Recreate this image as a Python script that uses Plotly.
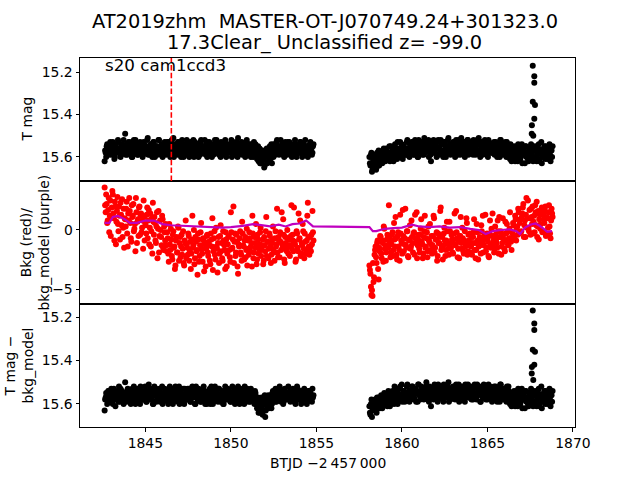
import numpy as np
import plotly.graph_objects as go
from plotly.subplots import make_subplots

# ---------------- data ----------------
CADENCE = 0.06            # days between samples of one series
T1_START = 1842.62        # first orbit start (BTJD - 2457000)
T2_START = 1858.10        # second orbit start
T_HALF = 0.03             # the "_b" samples sit half a cadence later

# Panel 1: T mag, in hundredths of a magnitude above 15
tmag_seg1 = [
    62,58,55,57,59,54,56,58,53,57,60,55,57,52,58,56,59,54,57,55,
    49,57,59,55,53,58,56,60,54,57,52,56,59,55,58,54,57,60,53,56,
    58,55,51,57,59,54,56,58,53,60,56,55,57,52,58,59,54,56,57,55,
    59,53,57,56,60,54,58,51,56,57,55,59,53,57,58,54,56,60,55,57,
    52,58,56,59,54,57,55,60,53,56,58,54,57,59,52,56,58,55,57,54,
    60,56,53,58,55,57,59,54,56,52,58,57,55,60,54,56,59,53,57,56,
    55,58,54,57,60,53,56,59,55,57,51,58,56,54,59,57,55,60,53,58,
    56,59,54,57,55,60,58,54,56,58,62,56,63,59,57,61,64,58,56,60,
    62,55,57,63,58,54,56,57,52,58,59,55,57,54,56,60,53,57,59,55,
    53,57,59,55,56,58,54,60,57,55,58,53,56,59,54,57,55,58,60,56,54,57,59,55]
tmag_seg1_b = [
    57,60,54,58,56,53,59,55,57,61,54,58,56,53,57,60,55,58,52,56,
    59,54,57,53,58,55,60,56,52,58,57,54,59,56,53,57,55,59,54,58,
    56,52,59,55,57,54,60,53,58,56,55,59,52,57,56,54,60,57,53,58,
    55,58,53,59,56,52,57,60,54,56,58,53,57,55,60,52,58,56,54,59,
    57,54,60,53,58,56,52,59,55,57,54,60,56,53,58,55,57,52,59,56,
    53,59,56,55,60,54,57,52,58,56,54,59,57,53,56,58,55,52,60,54,
    58,55,57,52,56,59,54,57,53,60,56,58,55,53,57,54,59,56,52,57,
    54,57,60,55,58,53,56,59,61,55,60,63,57,62,59,65,60,57,63,58,
    59,61,54,58,60,56,59,53,57,55,58,52,56,59,54,57,55,58,53,57,
    58,55,60,54,57,52,59,56,55,58,53,57,60,54,56,52,58,55,59,57,53,56,58,54]
tmag_seg2 = [
    60,64,58,66,62,63,59,65,61,57,63,60,58,62,56,61,59,57,60,58,
    62,55,59,57,60,54,58,61,56,59,53,57,60,55,58,56,59,52,57,60,
    55,58,53,57,59,54,56,60,52,57,55,58,54,59,56,53,57,55,60,54,
    62,56,58,53,57,55,59,52,56,58,54,57,60,53,56,55,58,51,57,59,
    54,56,58,53,57,55,59,52,56,54,58,57,53,60,55,56,52,58,54,57,
    55,59,53,56,58,52,57,54,60,55,57,53,58,56,54,59,52,57,55,58,
    54,57,59,53,56,58,55,60,52,57,54,59,56,58,53,57,55,61,56,58,
    59,55,62,57,60,54,58,61,56,63,57,59,55,60,58,62,56,59,57,61,
    55,60,57,62,58,54,61,57,63,59,56,60,55,58,61,57,59,56,60]
tmag_seg2_b = [
    63,59,67,61,64,60,66,58,62,64,59,61,63,57,60,62,56,59,61,55,
    58,60,56,62,55,59,57,53,60,56,58,54,61,55,57,59,53,56,58,54,
    57,53,59,56,52,58,55,60,54,57,53,59,56,51,58,54,57,52,56,59,
    54,58,52,57,55,60,53,56,59,52,57,54,58,53,60,55,52,57,54,56,
    58,53,56,60,52,55,57,54,59,51,56,58,53,55,57,52,59,54,56,53,
    57,52,56,59,54,57,51,58,55,53,59,56,52,57,55,60,53,56,54,58,
    56,53,58,55,60,54,57,52,59,56,54,58,53,60,56,55,59,54,62,57,
    61,57,59,55,62,58,56,60,54,59,57,63,55,58,61,56,60,54,58,62,
    57,61,55,59,56,62,58,53,60,57,55,61,58,56,59,54,62,57,55]
flare_t = [1867.59, 1867.60, 1867.65, 1867.65, 1867.74, 1867.74, 1867.78, 1867.74, 1867.68]
flare_tmag = [15.49, 15.45, 15.17, 15.34, 15.22, 15.25, 15.355, 15.42, 15.50]

# Panel 2: background (red) in tenths, and background model (purple)
bkg_seg1 = [
    36,15,22,8,27,12,-5,19,30,10,24,-12,16,5,20,-8,13,26,2,-15,
    9,18,-3,14,27,6,-10,11,22,1,-18,15,7,-5,20,12,-2,8,25,-9,
    4,13,-7,17,2,-14,10,23,-4,6,-11,15,1,-19,8,-6,12,-15,3,-9,
    -13,-2,-20,5,-17,-8,-25,-1,-14,-30,-6,-19,2,-11,-23,-4,-16,-28,-9,8,
    -12,-21,-5,-18,-33,-8,-15,0,-24,-10,-17,-3,-27,-13,6,-20,-7,-35,-11,-16,
    -4,-22,-13,-29,-8,10,-18,-1,-25,-14,-36,-6,-20,4,-11,-26,-9,-17,-2,-31,
    -12,-5,-23,15,-16,-8,-28,-3,-19,-10,-37,-14,-1,-21,7,-13,-25,-6,-17,-30,
    -9,-2,-18,-11,12,-24,-6,-15,-29,-4,-20,-12,2,-17,-8,-26,-13,-1,-22,-10,
    -16,-5,-28,-11,3,-19,-7,-14,18,-23,-9,-2,-17,-12,9,-25,-6,-15,0,-20,
    -8,-13,21,-4,-18,-10,-27,-1,-15,14,-7,-22,-11,5,-16,-3,-20,-9,23,-14,-6,-18,-12,-2]
bkg_seg1_b = [
    21,30,6,17,-2,25,11,33,14,-9,20,7,28,-1,12,23,4,-6,18,10,
    3,24,-14,8,16,-7,21,12,-1,5,27,-11,9,19,-4,14,2,-16,11,6,
    -3,19,8,-12,14,-1,-20,7,11,-9,3,-24,16,-5,0,-13,9,-17,-2,5,
    -18,-7,-27,-12,1,-22,-4,-15,-33,-9,-19,3,-26,-6,-14,-21,-1,-30,-11,-24,
    -15,-3,-26,-10,-20,12,-13,-29,-6,-18,-38,-8,-22,-2,-16,-27,-9,-12,-31,-5,
    -19,-10,-26,-3,-14,-34,-7,-21,2,-16,-11,-28,-5,-18,-24,-1,-13,-33,-8,-20,
    -6,-17,-27,-2,-15,20,-10,-22,-4,-31,-12,-7,-19,-26,-3,-14,-9,-23,1,-16,
    -21,-7,-14,-31,-3,-19,-11,5,-25,-8,-16,-2,-22,-13,-29,-6,-18,11,-10,-24,
    -3,-14,-21,-8,-17,-26,-1,-12,-19,-6,-23,-10,15,-15,-4,-28,-11,-18,-7,-13,
    -22,-5,-16,-9,19,-12,-25,-3,-18,-8,8,-20,-13,-1,-24,-10,-17,12,-6,-21,-14,-4,16,-9]
bkg_seg2 = [
    -30,-37,-55,-56,-44,-21,-14,-28,-9,-42,-18,-6,-24,-11,3,-16,-26,-8,-13,21,
    -10,-19,-4,-22,6,-14,-7,-25,-2,-17,13,-9,-20,-5,-12,18,-15,-1,-23,-8,
    -16,8,-11,-3,-21,-7,15,-13,-4,-19,1,-10,-24,-6,12,-14,-2,-18,-9,5,
    -12,-20,-5,10,-15,-8,-26,-3,-11,16,-17,-6,-13,2,-22,-9,-1,-16,7,-11,
    -4,-19,-8,14,-13,-2,-23,-10,-5,11,-16,-7,-20,-1,-12,6,-18,-9,-3,-14,
    -21,-6,9,-11,-17,-2,-25,-8,-13,4,-10,-19,-5,13,-15,-7,-22,-3,-12,1,
    14,-9,-16,-4,-11,8,-20,-6,-1,-14,10,-8,-18,-3,5,-12,-7,15,-10,-2,
    6,-5,12,-9,3,18,-3,9,-1,14,22,4,-6,27,10,2,17,-4,11,20,
    7,-2,15,24,3,-8,13,5,19,-1,9,16,-5,11,2,21,-3,8,14]
bkg_seg2_b = [
    -34,-48,-51,-28,-40,-17,-23,-11,-33,-15,-5,-20,-9,-27,1,-13,-19,-4,-15,-7,
    -23,-12,-2,-17,-8,11,-21,-5,-14,-26,-3,-11,17,-18,-7,-13,-1,-22,-9,4,
    -14,-6,-19,-2,13,-11,-24,-8,-16,-4,9,-12,-20,-1,-15,-7,-23,3,-10,-17,
    -5,-13,12,-19,-8,-2,-22,-11,-6,19,-14,-25,-3,-9,-17,7,-12,-21,-1,-15,
    -8,-20,-3,-12,16,-7,-16,-24,-5,-11,2,-18,-9,-14,10,-21,-4,-13,-19,-6,
    -11,-2,-17,-24,5,-9,-14,-6,-20,-1,12,-13,-7,-18,-3,-10,-23,8,-15,-5,
    -12,-19,3,-8,-15,-1,11,-6,-21,-11,-4,-16,7,-9,-2,-13,1,-7,-17,-3,
    4,-8,9,1,-4,15,6,-2,11,19,-6,8,13,2,25,-1,10,18,5,-3,
    12,21,4,-6,16,9,1,17,-2,13,6,20,-4,10,15,3,-7,18,11]
model_t = [1842.62, 1842.9, 1843.1, 1843.4, 1843.8, 1844.1, 1844.5, 1845.0, 1845.5,
           1846.0, 1846.5, 1847.2, 1848.0, 1848.8, 1849.5, 1850.0, 1850.7, 1851.3,
           1851.8, 1852.3, 1852.8, 1853.2, 1853.6, 1854.0, 1854.4, 1854.8,
           1858.1, 1858.3, 1858.5, 1859.0, 1859.5, 1860.0, 1860.6, 1861.0, 1861.6,
           1862.2, 1862.8, 1863.4, 1864.0, 1864.5, 1864.9, 1865.3, 1865.8, 1866.3,
           1866.7, 1866.9, 1867.2, 1867.5, 1867.8, 1868.0, 1868.3, 1868.5, 1868.78]
model_v = [0.6, 0.6, 1.1, 1.2, 0.9, 0.6, 0.6, 0.8, 0.8,
           0.5, 0.4, 0.35, 0.3, 0.25, 0.2, 0.25, 0.35, 0.5,
           0.4, 0.3, 0.45, 0.3, 0.5, 0.55, 0.8, 0.3,
           0.25, -0.1, -0.1, 0.1, 0.15, 0.2, 0.45, 0.3, 0.25,
           0.3, 0.2, 0.25, 0.1, 0.0, -0.35, -0.1, 0.0, 0.05,
           -0.1, -0.35, 0.2, 0.45, 0.55, 0.4, 0.1, -0.15, -0.1]

# Panel 3: T mag - bkg_model, in hundredths of a magnitude above 15
dmag_seg1 = [
    63,57,56,58,54,59,55,57,60,53,56,58,55,57,52,59,56,54,58,57,
    50,56,58,54,57,59,55,53,58,56,60,54,57,55,59,52,56,58,55,57,
    54,59,56,51,57,55,58,60,54,56,53,58,57,55,59,56,52,57,58,54,
    57,55,60,53,58,56,54,59,57,52,56,58,55,60,54,57,56,59,53,58,
    56,53,58,55,59,57,54,56,60,52,57,55,58,54,59,56,53,57,60,55,
    58,54,57,60,52,56,59,55,57,54,58,53,56,59,57,55,60,54,58,56,
    53,57,55,59,56,58,54,60,57,55,52,58,56,59,54,57,60,55,58,53,
    57,55,59,54,58,56,60,55,57,61,64,58,62,57,65,60,56,63,59,57,
    62,58,56,60,54,57,59,55,58,53,57,56,59,54,60,56,58,55,57,52,
    56,59,55,58,54,57,60,56,53,58,55,57,59,54,56,58,55,60,57,54,58,56,59,57]
dmag_seg1_b = [
    58,55,60,54,57,59,53,56,58,55,61,57,54,59,56,53,58,55,60,57,
    55,59,53,57,56,60,54,58,52,57,55,59,53,56,60,57,54,58,56,52,
    59,56,54,58,53,57,55,60,52,56,59,54,57,53,58,55,60,56,53,57,
    54,59,56,52,57,55,60,53,58,56,54,59,52,57,55,58,53,60,56,54,
    58,55,53,59,56,52,57,54,60,55,58,53,56,59,54,57,52,58,55,60,
    55,57,53,58,54,60,56,52,57,55,59,53,58,56,54,60,57,52,55,58,
    57,54,59,55,52,58,56,53,59,54,57,60,55,58,53,56,52,59,57,54,
    59,56,53,58,55,57,54,59,62,57,60,64,58,61,63,59,66,58,61,56,
    60,57,62,55,58,56,53,59,55,57,52,58,56,54,59,53,57,55,58,56,
    54,58,56,53,59,55,57,52,58,56,54,60,57,55,53,58,56,59,54,57,55,58,53,56]
dmag_seg2 = [
    61,65,58,63,60,62,58,64,60,57,62,59,57,61,56,60,58,56,59,57,
    61,55,58,56,60,53,57,59,55,58,52,56,59,54,57,55,58,51,56,59,
    54,57,52,56,58,53,55,59,51,56,54,57,53,58,55,52,56,54,59,53,
    61,55,57,52,56,54,58,51,55,57,53,56,59,52,55,54,57,50,56,58,
    53,55,57,52,56,54,58,51,55,53,57,56,52,59,54,55,51,57,53,56,
    54,58,52,55,57,51,56,53,59,54,56,52,57,55,53,58,51,56,54,57,
    53,56,58,52,55,57,54,59,51,56,53,58,55,57,52,56,54,60,55,57,
    58,54,61,56,59,53,57,60,55,62,56,58,54,59,57,61,55,58,56,60,
    54,59,56,61,57,53,60,56,62,58,55,59,54,57,60,56,58,55,59]
dmag_seg2_b = [
    64,60,66,59,62,58,63,57,61,59,60,56,62,58,55,59,57,61,54,58,
    56,59,54,58,52,57,55,60,53,56,58,51,57,54,59,55,52,57,54,56,
    58,52,55,57,53,59,54,51,56,58,52,55,57,53,56,50,58,54,52,57,
    55,53,58,51,56,54,59,52,57,55,53,58,51,56,54,57,52,59,55,53,
    57,52,54,58,51,56,53,59,55,52,57,54,58,51,56,53,55,57,52,58,
    54,57,51,56,58,53,55,52,59,54,57,51,56,58,53,55,57,52,56,59,
    55,52,57,54,59,53,56,51,58,55,53,57,54,59,56,52,58,55,61,57,
    60,56,58,54,61,57,55,59,53,58,56,62,54,57,60,55,59,53,57,61,
    56,60,54,58,55,61,57,52,59,56,54,60,57,55,58,53,61,56,54]
flare_dmag = [15.46, 15.43, 15.17, 15.35, 15.23, 15.26, 15.36, 15.42, 15.49]

sector_label = "s20 cam1ccd3"
discovery_t = 1846.52
title_lines = ["AT2019zhm\u00a0 MASTER-OT-J070749.24+301323.0",
               "17.3Clear_ Unclassified z= -99.0"]
x_ticks = [1845, 1850, 1855, 1860, 1865, 1870]

# ---------------- build ----------------
def times(start, n):
    return np.round(start + CADENCE * np.arange(n), 3)

t_all = np.concatenate([times(T1_START, len(tmag_seg1)), times(T1_START + T_HALF, len(tmag_seg1_b)),
                        times(T2_START, len(tmag_seg2)), times(T2_START + T_HALF, len(tmag_seg2_b))])

def mag(*parts):
    return 15 + np.concatenate([np.array(p) for p in parts]) / 100

tmag = mag(tmag_seg1, tmag_seg1_b, tmag_seg2, tmag_seg2_b)
dmag = mag(dmag_seg1, dmag_seg1_b, dmag_seg2, dmag_seg2_b)
bkg = np.concatenate([np.array(p) for p in (bkg_seg1, bkg_seg1_b, bkg_seg2, bkg_seg2_b)]) / 10

FONT = "DejaVu Sans"
L, R, T, B = 80, 65, 58, 53
W, H = 640, 480
PW, PH = W - L - R, H - T - B

def px(xp):
    return (xp - L) / PW

def py(yp):
    return (H - B - yp) / PH

fig = make_subplots(rows=3, cols=1, shared_xaxes=True, vertical_spacing=0)

dot = dict(color="black", size=6)
fig.add_trace(go.Scatter(x=t_all, y=tmag, mode="markers", marker=dot, hoverinfo="skip"), row=1, col=1)
fig.add_trace(go.Scatter(x=flare_t, y=flare_tmag, mode="markers", marker=dot, hoverinfo="skip"), row=1, col=1)

fig.add_trace(go.Scatter(x=t_all, y=bkg, mode="markers", marker=dict(color="red", size=6), hoverinfo="skip"), row=2, col=1)
fig.add_trace(go.Scatter(x=model_t, y=model_v, mode="lines", line=dict(color="#bf00bf", width=2.2), hoverinfo="skip"), row=2, col=1)

fig.add_trace(go.Scatter(x=t_all, y=dmag, mode="markers", marker=dot, hoverinfo="skip"), row=3, col=1)
fig.add_trace(go.Scatter(x=flare_t, y=flare_dmag, mode="markers", marker=dot, hoverinfo="skip"), row=3, col=1)

axis_style = dict(showline=True, mirror=True, linecolor="black", linewidth=1,
                  ticks="outside", ticklen=3.5, tickwidth=0.8, tickcolor="black",
                  showgrid=False, zeroline=False, tickfont=dict(family=FONT, size=13.9, color="black"))

xr = [1841.18, 1870.12]
for r in (1, 2, 3):
    fig.update_xaxes(range=xr, tickvals=x_ticks, row=r, col=1, **axis_style)
fig.update_xaxes(ticks="", row=1, col=1)
fig.update_xaxes(ticks="", row=2, col=1)

fig.update_yaxes(range=[15.713, 15.134], tickvals=[15.2, 15.4, 15.6], tickformat=".1f", row=1, col=1, **axis_style)
fig.update_yaxes(range=[-6.27, 4.15], tickvals=[-5, 0], row=2, col=1, **axis_style)
fig.update_yaxes(range=[15.706, 15.140], tickvals=[15.2, 15.4, 15.6], tickformat=".1f", row=3, col=1, **axis_style)

fig.add_shape(type="line", xref="x", yref="y domain", x0=discovery_t, x1=discovery_t, y0=0, y1=1,
              line=dict(color="red", width=1.6, dash="5.5px,2.4px"), layer="above")

ann_font = dict(family=FONT, size=13.9, color="black")
big_font = dict(family=FONT, size=19.4, color="black")
annotations = [
    dict(text=sector_label, xref="paper", yref="paper", x=px(103), y=py(64.5),
         xanchor="left", yanchor="middle", showarrow=False, font=dict(family=FONT, size=16.7, color="black")),
    dict(text=title_lines[0], xref="paper", yref="paper", x=px(324.5), y=py(21),
         xanchor="center", yanchor="middle", showarrow=False, font=big_font),
    dict(text=title_lines[1], xref="paper", yref="paper", x=px(324.5), y=py(43),
         xanchor="center", yanchor="middle", showarrow=False, font=big_font),
    dict(text="BTJD \u22122\u2009457\u2009000", xref="paper", yref="paper", x=px(327.5), y=py(463),
         xanchor="center", yanchor="middle", showarrow=False, font=ann_font),
    dict(text="T mag", xref="paper", yref="paper", x=px(27), y=py(119.5), textangle=-90,
         xanchor="center", yanchor="middle", showarrow=False, font=ann_font),
    dict(text="Bkg (red)/<br>bkg_model (purple)", xref="paper", yref="paper", x=px(34), y=py(242.5), textangle=-90,
         xanchor="center", yanchor="middle", showarrow=False, font=ann_font),
    dict(text="T mag \u2212<br>bkg_model", xref="paper", yref="paper", x=px(18), y=py(365.5), textangle=-90,
         xanchor="center", yanchor="middle", showarrow=False, font=ann_font),
]

fig.update_layout(width=W, height=H, margin=dict(l=L, r=R, t=T, b=B, autoexpand=False),
                  paper_bgcolor="white", plot_bgcolor="white", showlegend=False,
                  font=dict(family=FONT, size=13.9, color="black"), annotations=annotations)

fig.write_html("out.html", config={"displayModeBar": False},
               post_script="document.body.style.margin='0px';")
